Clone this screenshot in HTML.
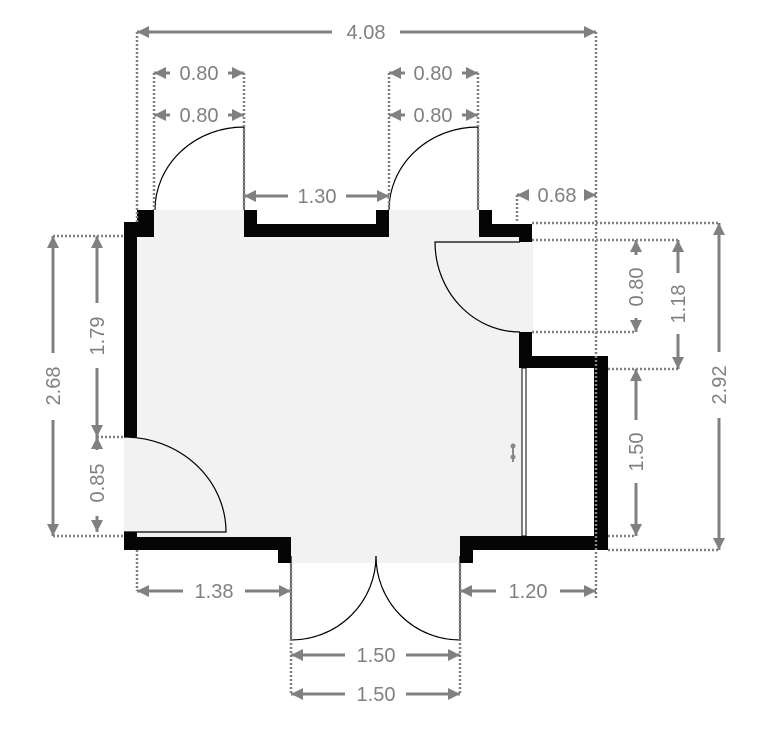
<!DOCTYPE html>
<html><head><meta charset="utf-8"><style>
html,body{margin:0;padding:0;background:#fff;}
svg{display:block;}
text{font-family:"Liberation Sans",sans-serif;font-size:20px;fill:#808080;}
</style></head><body>
<svg width="782" height="742" viewBox="0 0 782 742" xmlns="http://www.w3.org/2000/svg">
<defs>
<marker id="a" viewBox="0 0 10 10" refX="10" refY="5" markerWidth="4" markerHeight="4" orient="auto-start-reverse"><path d="M0,0 L10,5 L0,10 z" fill="#808080"/></marker>
</defs>
<g fill="#f2f2f2">
<rect x="137" y="237" width="385" height="313"/>
<rect x="154" y="210" width="90" height="27"/>
<rect x="389" y="210" width="90" height="27"/>
<rect x="519" y="237" width="14" height="95"/>
<rect x="124" y="437" width="13" height="95"/>
<rect x="291" y="550" width="169" height="13"/>
</g>
<g fill="#050505">
<rect x="137" y="210" width="17" height="27"/>
<rect x="124" y="222" width="13" height="215"/>
<rect x="244" y="210" width="13" height="27"/>
<rect x="244" y="224" width="145" height="13"/>
<rect x="376" y="210" width="13" height="27"/>
<rect x="479" y="210" width="13" height="27"/>
<rect x="479" y="224" width="53" height="13"/>
<rect x="519" y="224" width="13" height="18"/>
<rect x="519" y="332" width="13" height="36"/>
<rect x="519" y="356" width="89" height="12"/>
<rect x="594" y="356" width="14" height="194"/>
<rect x="460" y="536" width="148" height="14"/>
<rect x="460" y="536" width="13" height="27"/>
<rect x="124" y="532" width="13" height="18"/>
<rect x="124" y="537" width="167" height="13"/>
<rect x="278" y="537" width="13" height="26"/>
</g>
<rect x="522" y="368" width="4" height="168" fill="#fff" stroke="#000" stroke-width="1"/>
<g fill="#888"><circle cx="513" cy="446" r="2.5"/><circle cx="513" cy="457" r="2.5"/><rect x="512" y="446" width="2" height="16"/></g>
<g fill="none" stroke="#000" stroke-width="1.2">
<path d="M244,210 V127 A89,83 0 0 0 155,210"/>
<path d="M478,210 V127 A89,83 0 0 0 389,210"/>
<path d="M520,242 H435 A85,90 0 0 0 520,332"/>
<path d="M124,532 H226 A102,95 0 0 0 124,437"/>
<path d="M291,556 V640 A85,84 0 0 0 376,556"/>
<path d="M460,556 V640 A84,84 0 0 1 376,556"/>
</g>
<g stroke="#808080" stroke-width="2.5" stroke-dasharray="2,2" fill="none">
<path d="M137,32 V222"/><path d="M596,32 V600"/>
<path d="M154,73 V210"/><path d="M244,73 V210"/>
<path d="M389,73 V210"/><path d="M478,73 V210"/>
<path d="M517,195 V223"/>
<path d="M532,223 H720"/><path d="M532,240 H680"/><path d="M532,332 H636"/>
<path d="M608,369 H680"/><path d="M608,536 H636"/><path d="M608,550 H720"/>
<path d="M53,236 H124"/><path d="M97,437 H124"/><path d="M53,536 H124"/>
<path d="M137,550 V591"/><path d="M291,563 V694"/><path d="M460,563 V694"/>
</g>
<g stroke="#808080" stroke-width="3" fill="none" marker-start="url(#a)">
<path d="M137,32 H332"/><path d="M596,32 H400" />
<path d="M154,73 H170"/><path d="M244,73 H228"/>
<path d="M154,115 H170"/><path d="M244,115 H228"/>
<path d="M389,73 H405"/><path d="M478,73 H462"/>
<path d="M389,115 H405"/><path d="M478,115 H462"/>
<path d="M244,196 H288"/><path d="M389,196 H346"/>
<path d="M517,195 H525"/><path d="M596,195 H588"/>
<path d="M636,240 V255"/><path d="M636,332 V318"/>
<path d="M678,240 V273"/><path d="M678,369 V334"/>
<path d="M636,369 V420"/><path d="M636,536 V483"/>
<path d="M719,223 V352"/><path d="M719,550 V418"/>
<path d="M53,236 V353"/><path d="M53,536 V420"/>
<path d="M97,236 V303"/><path d="M97,437 V368"/>
<path d="M97,437 V450"/><path d="M97,532 V516"/>
<path d="M137,591 H183"/><path d="M291,591 H245"/>
<path d="M460,591 H496"/><path d="M596,591 H560"/>
<path d="M291,655 H345"/><path d="M460,655 H406"/>
<path d="M291,694 H345"/><path d="M460,694 H406"/>
</g>
<g text-anchor="middle">
<text x="366" y="39">4.08</text>
<text x="199" y="80">0.80</text><text x="199" y="122">0.80</text>
<text x="433" y="80">0.80</text><text x="433" y="122">0.80</text>
<text x="317" y="203">1.30</text>
<text x="557" y="202">0.68</text>
<text x="214" y="598">1.38</text>
<text x="528" y="598">1.20</text>
<text x="376" y="662">1.50</text>
<text x="376" y="701">1.50</text>
<text transform="translate(643,287) rotate(-90)">0.80</text>
<text transform="translate(685,304) rotate(-90)">1.18</text>
<text transform="translate(643,452) rotate(-90)">1.50</text>
<text transform="translate(726,385) rotate(-90)">2.92</text>
<text transform="translate(60,386) rotate(-90)">2.68</text>
<text transform="translate(104,336) rotate(-90)">1.79</text>
<text transform="translate(104,483) rotate(-90)">0.85</text>
</g>
</svg>
</body></html>
